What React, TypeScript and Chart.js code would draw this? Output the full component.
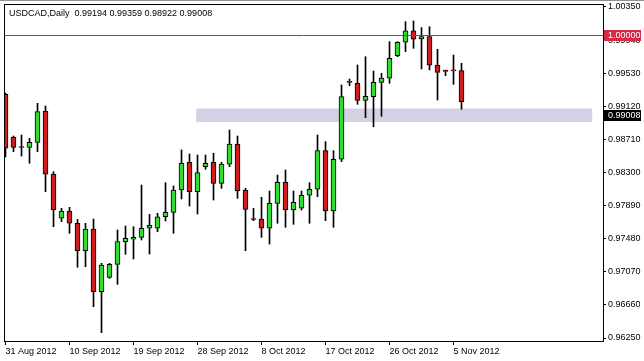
import { useEffect, useRef } from 'react';
import { Chart, registerables } from 'chart.js';

Chart.register(...registerables);

// ---- Data (USDCAD daily candles, 31 Aug 2012 .. 6 Nov 2012) ----
const opens = [
  0.99269, 0.98736, 0.98616, 0.98612, 0.98674, 0.99062, 0.98281, 0.97733, 0.97823, 0.97671,
  0.97331, 0.97600, 0.96823, 0.97002, 0.97163, 0.97443, 0.97473, 0.97497, 0.97609, 0.97609,
  0.97752, 0.97807, 0.98083, 0.98426, 0.98062, 0.98372, 0.98426, 0.98166, 0.98402, 0.98653,
  0.98083, 0.97720, 0.97724, 0.97609, 0.97918, 0.98179, 0.97835, 0.97857, 0.98018, 0.98092,
  0.98570, 0.97823, 0.98464, 0.99421, 0.99405, 0.99194, 0.99239, 0.99417, 0.99467, 0.99747,
  0.99913, 1.00056, 0.99954, 0.99982, 0.99628, 0.99557, 0.99561, 0.99561,
];
const highs = [
  0.99285, 0.98752, 0.98765, 0.98724, 0.99157, 0.99124, 0.98310, 0.97857, 0.97869, 0.97720,
  0.97671, 0.97724, 0.97175, 0.97175, 0.97588, 0.97637, 0.97629, 0.98145, 0.97782, 0.97795,
  0.98174, 0.98133, 0.98579, 0.98529, 0.98517, 0.98517, 0.98538, 0.98426, 0.98826, 0.98752,
  0.98104, 0.97857, 0.97993, 0.98071, 0.98269, 0.98331, 0.98071, 0.98071, 0.98174, 0.98765,
  0.98682, 0.98570, 0.99384, 0.99458, 0.99632, 0.99734, 0.99557, 0.99529, 0.99920, 0.99920,
  1.00168, 1.00177, 1.00094, 1.00106, 0.99826, 0.99570, 0.99755, 0.99653,
];
const lows = [
  0.98492, 0.98558, 0.98504, 0.98414, 0.98558, 0.98062, 0.97629, 0.97691, 0.97547, 0.97126,
  0.97133, 0.96638, 0.96316, 0.96989, 0.96915, 0.97287, 0.97229, 0.97464, 0.97290, 0.97567,
  0.97699, 0.97547, 0.97972, 0.97885, 0.97786, 0.98340, 0.97959, 0.98104, 0.98372, 0.97980,
  0.97331, 0.97703, 0.97497, 0.97414, 0.97671, 0.97621, 0.97658, 0.97835, 0.97671, 0.98000,
  0.97703, 0.97621, 0.98434, 0.99375, 0.99145, 0.98979, 0.98867, 0.98996, 0.99405, 0.99734,
  0.99796, 0.99838, 0.99582, 0.99570, 0.99198, 0.99499, 0.99392, 0.99083,
];
const closes = [
  0.98600, 0.98612, 0.98610, 0.98674, 0.99053, 0.98278, 0.97835, 0.97823, 0.97671, 0.97331,
  0.97600, 0.96823, 0.97154, 0.97163, 0.97443, 0.97485, 0.97497, 0.97609, 0.97646, 0.97752,
  0.97807, 0.98083, 0.98414, 0.98062, 0.98298, 0.98414, 0.98166, 0.98405, 0.98653, 0.98075,
  0.97844, 0.97718, 0.97609, 0.97918, 0.98179, 0.97835, 0.97931, 0.98018, 0.98092, 0.98570,
  0.97823, 0.98464, 0.99239, 0.99417, 0.99194, 0.99244, 0.99417, 0.99471, 0.99715, 0.99913,
  1.00056, 0.99950, 0.99982, 0.99628, 0.99541, 0.99553, 0.99559, 0.99177,
];

const xTickIndex = [0, 8, 16, 24, 32, 40, 48, 56];
const xTickLabels = [
  '31 Aug 2012', '10 Sep 2012', '19 Sep 2012', '28 Sep 2012',
  '8 Oct 2012', '17 Oct 2012', '26 Oct 2012', '5 Nov 2012',
];
const yTickValues = [0.9625, 0.9666, 0.9707, 0.9748, 0.9789, 0.983, 0.9871, 0.9912, 0.9953, 0.9994, 1.0035];

const levelPrice = 1.0;
const bidPrice = 0.99008;
const zoneLow = 0.98925;
const zoneHigh = 0.99093;
const zoneFrom = 23.84;
const zoneTo = 73.34;
const titleText = 'USDCAD,Daily  0.99194 0.99359 0.98922 0.99008';

const FONT_FAMILY = '"Liberation Sans", Arial, sans-serif';
const FONT_SIZE = 9;
const GREEN = '#30dd30';
const RED = '#d01c1c';

const mtPlugin = {
  id: 'mtDecor',
  beforeDatasetsDraw(chart: any) {
    const { ctx, chartArea: a, scales } = chart;
    const x = scales.x;
    const y = scales.y;
    ctx.save();
    ctx.beginPath();
    ctx.rect(a.left, a.top, a.right - a.left, a.bottom - a.top);
    ctx.clip();
    const x1 = x.getPixelForValue(zoneFrom);
    const x2 = x.getPixelForValue(zoneTo);
    const y1 = y.getPixelForValue(zoneHigh);
    const y2 = y.getPixelForValue(zoneLow);
    ctx.fillStyle = '#d5d1e5';
    ctx.fillRect(x1, y1, x2 - x1, y2 - y1);
    ctx.restore();
  },
  afterDraw(chart: any) {
    const { ctx, chartArea: a, scales } = chart;
    const y = scales.y;
    ctx.save();
    // level line
    const yl = Math.round(y.getPixelForValue(levelPrice)) + 0.5;
    ctx.strokeStyle = '#c8283c';
    ctx.lineWidth = 1;
    ctx.beginPath();
    ctx.moveTo(a.left, yl);
    ctx.lineTo(a.right, yl);
    ctx.stroke();
    // frame
    ctx.strokeStyle = '#000';
    ctx.strokeRect(a.left + 0.5, a.top + 0.5, a.right - a.left, a.bottom - a.top);
    // outer top border
    ctx.strokeStyle = '#909090';
    ctx.beginPath();
    ctx.moveTo(0, 0.5);
    ctx.lineTo(chart.width, 0.5);
    ctx.stroke();
    // title
    ctx.font = `${FONT_SIZE}px ${FONT_FAMILY}`;
    ctx.fillStyle = '#000';
    ctx.textBaseline = 'alphabetic';
    ctx.textAlign = 'left';
    ctx.fillText(titleText, 9, 16);
    // price tags
    const tag = (price: number, bg: string) => {
      const py = y.getPixelForValue(price);
      ctx.fillStyle = bg;
      ctx.fillRect(a.right + 1, Math.round(py) - 5, 37, 11);
      ctx.fillStyle = '#fff';
      ctx.textBaseline = 'middle';
      ctx.fillText(price.toFixed(5), a.right + 5, Math.round(py) + 0.5);
    };
    tag(levelPrice, '#d42a45');
    tag(bidPrice, '#000');
    ctx.restore();
  },
};

export default function App() {
  const ref = useRef<HTMLCanvasElement | null>(null);
  useEffect(() => {
    if (!ref.current) return;
    const bodyData = opens.map((o, i) => ({ x: i, y: [o, closes[i]] }));
    const wickData = opens.map((_, i) => ({ x: i, y: [lows[i], highs[i]] }));
    const font = { family: FONT_FAMILY, size: FONT_SIZE };
    const chart = new Chart(ref.current, {
      type: 'bar',
      data: {
        datasets: [
          {
            data: bodyData as any,
            backgroundColor: opens.map((o, i) => (closes[i] >= o ? GREEN : RED)),
            borderColor: '#000',
            borderWidth: 1,
            borderSkipped: false,
            barThickness: 5,
            minBarLength: 1,
            grouped: false,
            order: 0,
            clip: 0,
          } as any,
          {
            data: wickData as any,
            backgroundColor: '#000',
            borderWidth: 0,
            barThickness: 1,
            grouped: false,
            order: 1,
            clip: 0,
          } as any,
        ],
      },
      options: {
        responsive: false,
        animation: false,
        devicePixelRatio: 1,
        layout: { padding: { left: 4, top: 4, right: 0, bottom: 0 }, autoPadding: false },
        plugins: { legend: { display: false }, tooltip: { enabled: false }, title: { display: false } },
        scales: {
          x: {
            type: 'linear',
            min: -0.1875,
            max: 74.6875,
            offset: false,
            afterBuildTicks: (s: any) => {
              s.ticks = xTickIndex.map((v) => ({ value: v }));
            },
            afterFit: (s: any) => {
              s.height = 20;
              s.paddingLeft = 0;
              s.paddingRight = 0;
            },
            ticks: {
              callback: (v: any) => {
                const k = xTickIndex.indexOf(Number(v));
                return k >= 0 ? xTickLabels[k] : '';
              },
              align: 'start',
              maxRotation: 0,
              minRotation: 0,
              autoSkip: false,
              font,
              color: '#000',
              padding: 1,
            },
            grid: { display: true, offset: false, drawOnChartArea: false, drawTicks: true, tickLength: 4, color: '#000' },
            border: { display: false },
          },
          y: {
            type: 'linear',
            position: 'right',
            min: 0.96213,
            max: 1.00387,
            afterBuildTicks: (s: any) => {
              s.ticks = yTickValues.map((v) => ({ value: v }));
            },
            afterFit: (s: any) => {
              s.width = 41;
              s.paddingTop = 0;
              s.paddingBottom = 0;
            },
            ticks: {
              callback: (v: any) => Number(v).toFixed(5),
              font,
              color: '#000',
              padding: 2,
              autoSkip: false,
            },
            grid: { display: true, drawOnChartArea: false, drawTicks: true, tickLength: 3, color: '#000' },
            border: { display: false },
          },
        },
      } as any,
      plugins: [mtPlugin],
    });
    return () => chart.destroy();
  }, []);
  return (
    <div style={{ position: 'fixed', left: 0, top: 0, width: 644, height: 361, background: '#fff' }}>
      <canvas ref={ref} width={644} height={361} style={{ display: 'block' }} />
    </div>
  );
}
